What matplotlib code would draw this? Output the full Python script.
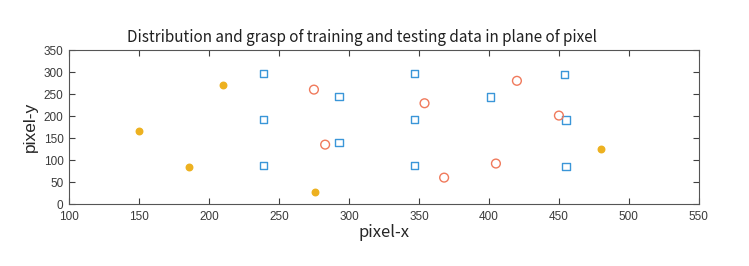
import matplotlib
matplotlib.use("Agg")
import matplotlib.pyplot as plt

plt.rcParams['font.family'] = ['Liberation Sans', 'DejaVu Sans']

train_x = [150, 186, 210, 276, 480]
train_y = [167, 85, 270, 27, 125]
grid_x = [239, 239, 239, 293, 293, 347, 347, 347, 401, 454, 455, 455]
grid_y = [297, 192, 88, 245, 140, 297, 192, 88, 243, 295, 191, 86]
test_x = [275, 283, 354, 368, 405, 420, 450]
test_y = [260, 135, 229, 60, 92, 280, 201]

fig = plt.figure(figsize=(7.49, 2.66), dpi=100)
ax = fig.add_axes([0.0921, 0.233, 0.841, 0.579])

ax.scatter(train_x, train_y, s=22, color='#EDB120', edgecolors='#EDB120', zorder=3)
ax.scatter(grid_x, grid_y, s=28, marker='s', facecolors='none', edgecolors='#3A96D8', linewidths=1.0, zorder=3)
ax.scatter(test_x, test_y, s=40, marker='o', facecolors='none', edgecolors='#F07A5C', linewidths=1.0, zorder=3)

ax.set_xlim(100, 550)
ax.set_ylim(0, 350)
ax.set_xticks(range(100, 551, 50))
ax.set_yticks(range(0, 351, 50))
ax.tick_params(direction='in', top=True, right=True, length=4, width=0.8,
               colors='#404040', labelsize=8.5, labelcolor='#3a3a3a')
ax.tick_params(axis='x', pad=5)
ax.tick_params(axis='y', pad=4)
for s in ax.spines.values():
    s.set_color('#555555')
    s.set_linewidth(0.8)

ax.set_xlabel('pixel-x', fontsize=12, family=['Noto Sans CJK SC', 'DejaVu Sans'], color='#262626', labelpad=1)
ax.set_ylabel('pixel-y', fontsize=12.5, color='#262626', labelpad=4)
ax.set_title('Distribution and grasp of training and testing data in plane of pixel',
             fontsize=11, family=['Noto Sans CJK SC', 'DejaVu Sans'], color='#202020', pad=6, x=0.465)

fig.savefig('out.png', dpi=100)
